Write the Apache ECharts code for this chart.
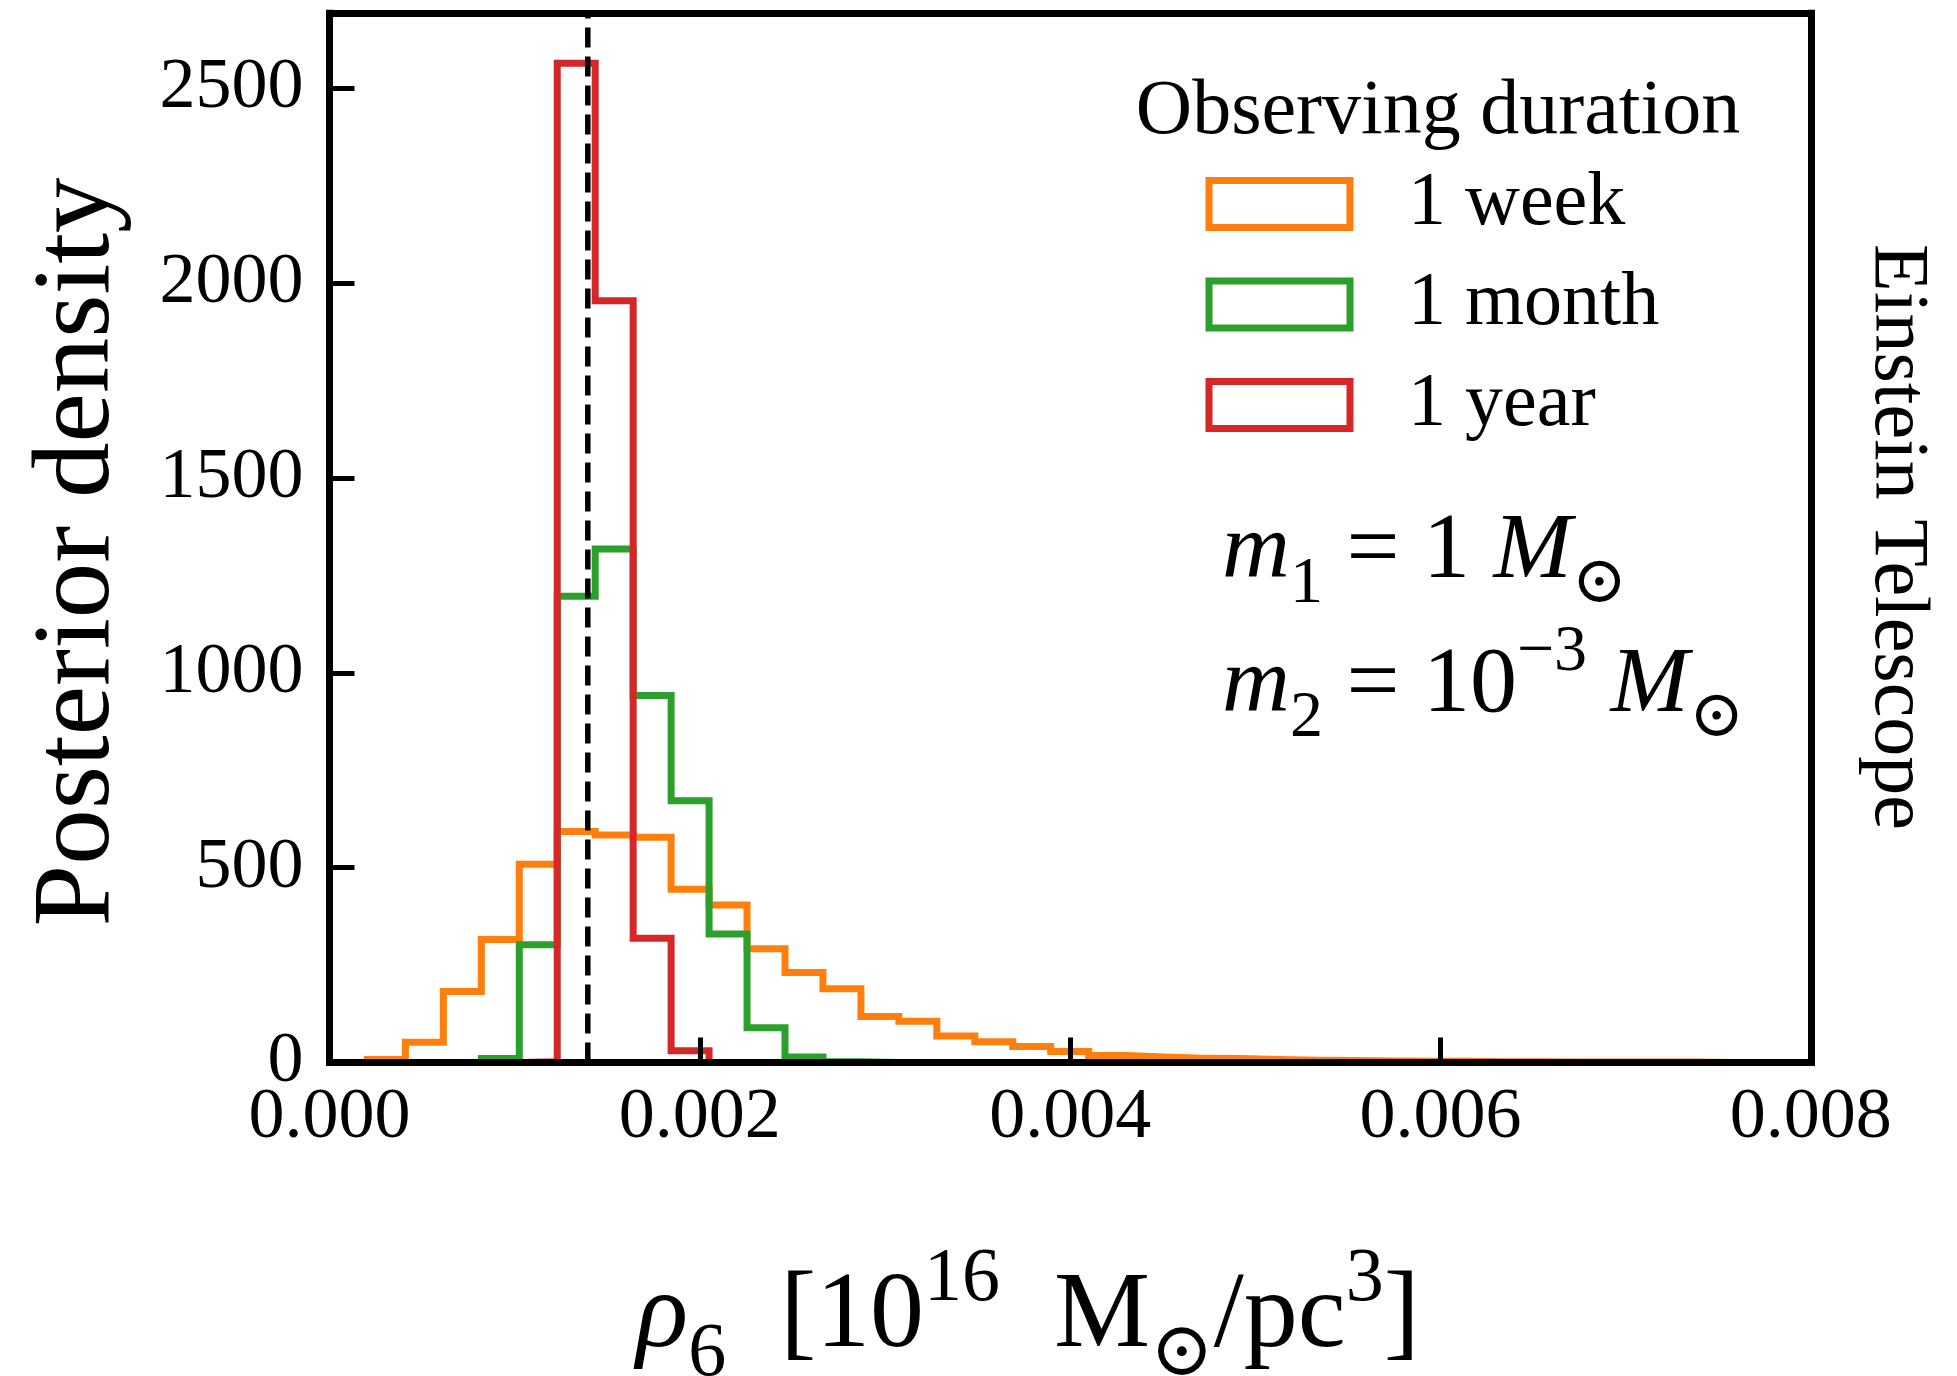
<!DOCTYPE html>
<html>
<head>
<meta charset="utf-8">
<script src="https://cdn.jsdelivr.net/npm/echarts@6/dist/echarts.min.js"></script>
<style>
  html, body { margin: 0; padding: 0; background: #ffffff; }
  #chart { width: 1957px; height: 1376px; }
</style>
</head>
<body>
<div id="chart"></div>
<script>
// Histogram bins share a common width, starting at rho6 = 0
const binWidth = 0.000205;

// Posterior density per bin, one array per observing duration
const weekDensity = [
  0, 8, 52, 182, 316, 509, 593, 584, 578, 445,
  404, 292, 231, 189, 118, 106, 68, 53, 41, 28,
  18, 14, 11, 10, 8, 6, 5, 4, 3, 3,
  2, 2, 1, 1, 1, 1, 0, 0, 0, 0
];
const monthDensity = [
  0, 0, 0, 0, 10, 302, 1197, 1318, 942, 672,
  330, 89, 14, 2, 0, 0, 0, 0, 0, 0,
  0, 0, 0, 0, 0, 0, 0, 0, 0, 0,
  0, 0, 0, 0, 0, 0, 0, 0, 0, 0
];
const yearDensity = [
  0, 0, 0, 0, 0, 2, 2565, 1955, 319, 30,
  0, 0, 0, 0, 0, 0, 0, 0, 0, 0,
  0, 0, 0, 0, 0, 0, 0, 0, 0, 0,
  0, 0, 0, 0, 0, 0, 0, 0, 0, 0
];

const seriesNames = ['1 week', '1 month', '1 year'];
const seriesColors = ['#ff7f0e', '#2ca02c', '#d62728'];
const densities = [weekDensity, monthDensity, yearDensity];

// True value of rho6 (dashed reference line)
const trueRho6 = 0.001395;

// Axis ranges and ticks
const xMin = 0, xMax = 0.008, xStep = 0.002;
const yMin = 0, yMax = 2693, yStep = 500;
const yTickLabels = [0, 500, 1000, 1500, 2000, 2500];

const SERIF = '"Liberation Serif", "DejaVu Serif", serif';
const INK = '#000000';
const FRAME_W = 7;
const HIST_W = 7;

// Outline of a step histogram: up/down at every bin edge
function stepOutline(values) {
  const pts = [[0, 0]];
  values.forEach(function (v, k) {
    pts.push([k * binWidth, v]);
    pts.push([(k + 1) * binWidth, v]);
  });
  pts.push([values.length * binWidth, 0]);
  return pts;
}

const frameLine = { show: true, onZero: false, lineStyle: { color: INK, width: FRAME_W, cap: 'square' } };

const chart = echarts.init(document.getElementById('chart'), null, { renderer: 'canvas' });

const series = seriesNames.map(function (name, i) {
  return {
    name: name,
    type: 'line',
    data: stepOutline(densities[i]),
    showSymbol: false,
    symbol: 'none',
    silent: true,
    clip: true,
    z: 2 + i,
    lineStyle: { color: seriesColors[i], width: HIST_W, join: 'miter' },
    itemStyle: { color: seriesColors[i] }
  };
});

// Vertical dashed line at the true value, spanning the full y range
series.push({
  name: 'true value',
  type: 'line',
  data: [[trueRho6, yMin], [trueRho6, yMax]],
  showSymbol: false,
  symbol: 'none',
  silent: true,
  clip: true,
  z: 6,
  lineStyle: { color: INK, width: 5.5, type: [20, 9] }
});

const mathRich = function (size) {
  const sub = Math.round(size * 0.7);
  return {
    it: { fontFamily: SERIF, fontStyle: 'italic', fontSize: size, lineHeight: Math.round(size * 1.4), verticalAlign: 'middle', fill: INK },
    rm: { fontFamily: SERIF, fontSize: size, lineHeight: Math.round(size * 1.4), verticalAlign: 'middle', fill: INK },
    sub: { fontFamily: SERIF, fontSize: sub, lineHeight: sub, verticalAlign: 'bottom', fill: INK },
    sup: { fontFamily: SERIF, fontSize: sub, lineHeight: Math.round(sub * 1.14), verticalAlign: 'top', fill: INK }
  };
};

const option = {
  backgroundColor: '#ffffff',
  animation: false,
  grid: { left: 329.5, top: 13.3, width: 1481.3, height: 1049.2, containLabel: false },
  xAxis: [
    {
      type: 'value', min: xMin, max: xMax, interval: xStep, position: 'bottom', z: 10,
      axisLine: frameLine,
      axisTick: { show: true, inside: true, length: 25, lineStyle: { color: INK, width: 5 } },
      axisLabel: {
        margin: 20, fontSize: 72, fontFamily: SERIF, color: INK,
        formatter: function (v) { return v.toFixed(3); }
      },
      splitLine: { show: false }
    },
    {
      type: 'value', min: xMin, max: xMax, position: 'top', z: 10,
      axisLine: frameLine, axisTick: { show: false }, axisLabel: { show: false }, splitLine: { show: false }
    }
  ],
  yAxis: [
    {
      type: 'value', min: yMin, max: yMax, interval: yStep, position: 'left', z: 10,
      axisLine: frameLine,
      axisTick: { show: true, inside: true, length: 25, lineStyle: { color: INK, width: 5 } },
      axisLabel: {
        margin: 26, fontSize: 72, fontFamily: SERIF, color: INK, showMaxLabel: false,
        formatter: function (v) { return yTickLabels.indexOf(v) >= 0 ? String(v) : ''; }
      },
      splitLine: { show: false }
    },
    {
      type: 'value', min: yMin, max: yMax, position: 'right', z: 10,
      axisLine: frameLine, axisTick: { show: false }, axisLabel: { show: false }, splitLine: { show: false }
    }
  ],
  legend: {
    orient: 'vertical',
    left: 1205.5,
    top: 166,
    padding: 0,
    itemWidth: 141,
    itemHeight: 47,
    itemGap: 24.5,
    icon: 'rect',
    selectedMode: false,
    data: seriesNames.map(function (n, i) {
      return { name: n, itemStyle: { color: 'rgba(0,0,0,0)', borderColor: seriesColors[i], borderWidth: FRAME_W } };
    }),
    textStyle: { fontFamily: SERIF, fontSize: 76, color: INK, lineHeight: 46, padding: [28, 0, 0, 53] }
  },
  graphic: [
    {
      type: 'text', x: 1438, y: 113, z: 20,
      style: { text: 'Observing duration', font: '78px ' + SERIF, fill: INK, align: 'center', verticalAlign: 'middle' }
    },
    {
      type: 'text', x: 79, y: 552, rotation: Math.PI / 2, z: 20,
      style: { text: 'Posterior density', font: '111px ' + SERIF, fill: INK, align: 'center', verticalAlign: 'middle' }
    },
    {
      type: 'text', x: 1896, y: 537, rotation: -Math.PI / 2, z: 20,
      style: { text: 'Einstein Telescope', font: '78px ' + SERIF, fill: INK, align: 'center', verticalAlign: 'middle' }
    },
    {
      type: 'text', x: 1028, y: 1318, z: 20,
      style: {
        text: '{it|ρ}{sub|6}{rm|  [10}{sup|16}{rm|  M}{sub|⊙}{rm|/pc}{sup|3}{rm|]}',
        align: 'center', verticalAlign: 'middle', fill: INK,
        rich: mathRich(108)
      }
    },
    {
      type: 'text', x: 1222, y: 552, z: 20,
      style: {
        text: '{it|m}{sub|1}{rm| = 1 }{it|M}{sub|⊙}',
        align: 'left', verticalAlign: 'middle', fill: INK,
        rich: mathRich(94)
      }
    },
    {
      type: 'text', x: 1222, y: 686, z: 20,
      style: {
        text: '{it|m}{sub|2}{rm| = 10}{sup|−3}{rm| }{it|M}{sub|⊙}',
        align: 'left', verticalAlign: 'middle', fill: INK,
        rich: mathRich(94)
      }
    }
  ],
  series: series
};

chart.setOption(option);
</script>
</body>
</html>
